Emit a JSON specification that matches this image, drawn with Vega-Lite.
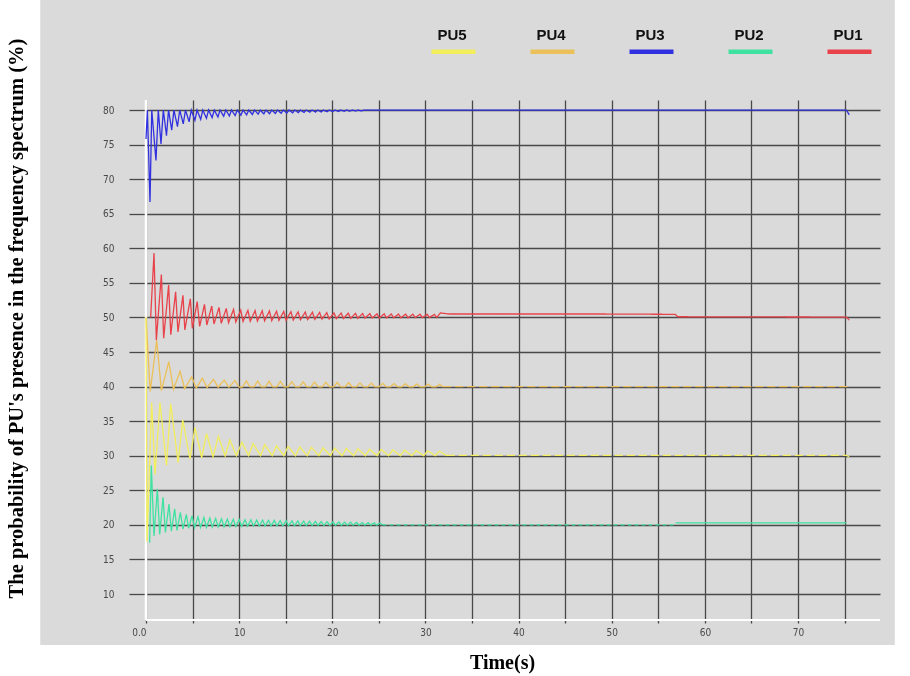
{
  "$schema": "https://vega.github.io/schema/vega-lite/v6.json",
  "width": 734,
  "height": 520,
  "autosize": {"type": "none"},
  "padding": {"left": 146, "top": 100, "right": 30, "bottom": 56},
  "background": "white",
  "config": {
    "view": {"stroke": null},
    "axisX": {
      "grid": true, "gridColor": "#555555", "gridWidth": 1.3, "domain": false,
      "ticks": true, "tickSize": 3, "tickColor": "#555555", "tickWidth": 1.3,
      "labelFont": "Liberation Sans Narrow, DejaVu Sans Condensed, sans-serif",
      "labelFontSize": 10, "labelColor": "#555555", "labelPadding": 4,
      "labelFlush": false, "labelOverlap": false
    },
    "axisY": {
      "grid": true, "gridColor": "#555555", "gridWidth": 1.3, "domain": false,
      "ticks": true, "tickSize": 17, "tickColor": "#555555", "tickWidth": 1.3,
      "labelFont": "Liberation Sans Narrow, DejaVu Sans Condensed, sans-serif",
      "labelFontSize": 10, "labelColor": "#555555", "labelPadding": 15,
      "labelFlush": false, "labelOverlap": false
    }
  },
  "layer": [
    {
      "data": {"values": [{}]},
      "mark": {"type": "rect", "fill": "#dadada", "blend": "multiply"},
      "encoding": {
        "x": {"datum": -11.35, "type": "quantitative", "axis": {"values": [0, 5, 10, 15, 20, 25, 30, 35, 40, 45, 50, 55, 60, 65, 70, 75]}},
        "x2": {"datum": 80.39},
        "y": {"datum": 95.91, "type": "quantitative", "axis": {"values": [10, 15, 20, 25, 30, 35, 40, 45, 50, 55, 60, 65, 70, 75, 80]}},
        "y2": {"datum": 2.62}
      }
    },
    {
      "data": {"values": [{}]},
      "mark": {"type": "rule", "color": "white", "strokeWidth": 2.5},
      "encoding": {"x": {"datum": 0, "type": "quantitative", "axis": {"values": [0, 5, 10, 15, 20, 25, 30, 35, 40, 45, 50, 55, 60, 65, 70, 75]}}}
    },
    {
      "data": {"values": [{}]},
      "mark": {"type": "rule", "color": "white", "strokeWidth": 2},
      "encoding": {"y": {"datum": 6.24, "type": "quantitative", "axis": {"values": [10, 15, 20, 25, 30, 35, 40, 45, 50, 55, 60, 65, 70, 75, 80]}}}
    },
    {
      "data": {"values": [
        {"s":"PU3","t":0,"v":75.8,"p":"a"},
        {"s":"PU3","t":0.15,"v":80,"p":"a"},
        {"s":"PU3","t":0.43,"v":66.7,"p":"a"},
        {"s":"PU3","t":0.62,"v":80,"p":"a"},
        {"s":"PU3","t":1.07,"v":72.7,"p":"a"},
        {"s":"PU3","t":1.32,"v":80,"p":"a"},
        {"s":"PU3","t":1.61,"v":75.1,"p":"a"},
        {"s":"PU3","t":1.86,"v":80,"p":"a"},
        {"s":"PU3","t":2.2,"v":76.3,"p":"a"},
        {"s":"PU3","t":2.42,"v":80,"p":"a"},
        {"s":"PU3","t":2.76,"v":77.1,"p":"a"},
        {"s":"PU3","t":3.0,"v":80,"p":"a"},
        {"s":"PU3","t":3.38,"v":77.6,"p":"a"},
        {"s":"PU3","t":3.62,"v":80,"p":"a"},
        {"s":"PU3","t":4.0,"v":78.0,"p":"a"},
        {"s":"PU3","t":4.24,"v":80,"p":"a"},
        {"s":"PU3","t":4.63,"v":78.3,"p":"a"},
        {"s":"PU3","t":4.86,"v":80,"p":"a"},
        {"s":"PU3","t":5.25,"v":78.5,"p":"a"},
        {"s":"PU3","t":5.48,"v":80,"p":"a"},
        {"s":"PU3","t":5.87,"v":78.65,"p":"a"},
        {"s":"PU3","t":6.1,"v":80,"p":"a"},
        {"s":"PU3","t":6.49,"v":78.8,"p":"a"},
        {"s":"PU3","t":6.72,"v":80,"p":"a"},
        {"s":"PU3","t":7.1,"v":78.9,"p":"a"},
        {"s":"PU3","t":7.33,"v":80,"p":"a"},
        {"s":"PU3","t":7.72,"v":79.0,"p":"a"},
        {"s":"PU3","t":7.95,"v":80,"p":"a"},
        {"s":"PU3","t":8.34,"v":79.1,"p":"a"},
        {"s":"PU3","t":8.57,"v":80,"p":"a"},
        {"s":"PU3","t":8.95,"v":79.15,"p":"a"},
        {"s":"PU3","t":9.18,"v":80,"p":"a"},
        {"s":"PU3","t":9.57,"v":79.2,"p":"a"},
        {"s":"PU3","t":9.8,"v":80,"p":"a"},
        {"s":"PU3","t":10.19,"v":79.25,"p":"a"},
        {"s":"PU3","t":10.42,"v":80,"p":"a"},
        {"s":"PU3","t":10.8,"v":79.3,"p":"a"},
        {"s":"PU3","t":11.03,"v":80,"p":"a"},
        {"s":"PU3","t":11.42,"v":79.35,"p":"a"},
        {"s":"PU3","t":11.65,"v":80,"p":"a"},
        {"s":"PU3","t":12.04,"v":79.4,"p":"a"},
        {"s":"PU3","t":12.27,"v":80,"p":"a"},
        {"s":"PU3","t":12.65,"v":79.43,"p":"a"},
        {"s":"PU3","t":12.88,"v":80,"p":"a"},
        {"s":"PU3","t":13.27,"v":79.46,"p":"a"},
        {"s":"PU3","t":13.5,"v":80,"p":"a"},
        {"s":"PU3","t":13.89,"v":79.5,"p":"a"},
        {"s":"PU3","t":14.12,"v":80,"p":"a"},
        {"s":"PU3","t":14.5,"v":79.53,"p":"a"},
        {"s":"PU3","t":14.73,"v":80,"p":"a"},
        {"s":"PU3","t":15.12,"v":79.56,"p":"a"},
        {"s":"PU3","t":15.35,"v":80,"p":"a"},
        {"s":"PU3","t":15.74,"v":79.59,"p":"a"},
        {"s":"PU3","t":15.97,"v":80,"p":"a"},
        {"s":"PU3","t":16.35,"v":79.62,"p":"a"},
        {"s":"PU3","t":16.58,"v":80,"p":"a"},
        {"s":"PU3","t":16.97,"v":79.65,"p":"a"},
        {"s":"PU3","t":17.2,"v":80,"p":"a"},
        {"s":"PU3","t":17.59,"v":79.68,"p":"a"},
        {"s":"PU3","t":17.82,"v":80,"p":"a"},
        {"s":"PU3","t":18.2,"v":79.7,"p":"a"},
        {"s":"PU3","t":18.43,"v":80,"p":"a"},
        {"s":"PU3","t":18.82,"v":79.73,"p":"a"},
        {"s":"PU3","t":19.05,"v":80,"p":"a"},
        {"s":"PU3","t":19.44,"v":79.76,"p":"a"},
        {"s":"PU3","t":19.67,"v":80,"p":"a"},
        {"s":"PU3","t":20.05,"v":79.78,"p":"a"},
        {"s":"PU3","t":20.28,"v":80,"p":"a"},
        {"s":"PU3","t":20.67,"v":79.8,"p":"a"},
        {"s":"PU3","t":20.9,"v":80,"p":"a"},
        {"s":"PU3","t":21.29,"v":79.82,"p":"a"},
        {"s":"PU3","t":21.52,"v":80,"p":"a"},
        {"s":"PU3","t":21.91,"v":79.84,"p":"a"},
        {"s":"PU3","t":22.14,"v":80,"p":"a"},
        {"s":"PU3","t":22.53,"v":79.86,"p":"a"},
        {"s":"PU3","t":22.76,"v":80,"p":"a"},
        {"s":"PU3","t":23.15,"v":79.88,"p":"a"},
        {"s":"PU3","t":23.38,"v":80,"p":"a"},
        {"s":"PU3","t":75.2,"v":80,"p":"a"},
        {"s":"PU3","t":75.5,"v":79.3,"p":"a"},

        {"s":"PU1","t":0.5,"v":50,"p":"a"},
        {"s":"PU1","t":0.86,"v":59.3,"p":"a"},
        {"s":"PU1","t":1.11,"v":46.7,"p":"a"},
        {"s":"PU1","t":1.65,"v":56.2,"p":"a"},
        {"s":"PU1","t":1.9,"v":47.0,"p":"a"},
        {"s":"PU1","t":2.43,"v":54.7,"p":"a"},
        {"s":"PU1","t":2.66,"v":47.5,"p":"a"},
        {"s":"PU1","t":3.18,"v":53.7,"p":"a"},
        {"s":"PU1","t":3.43,"v":47.9,"p":"a"},
        {"s":"PU1","t":3.97,"v":53.2,"p":"a"},
        {"s":"PU1","t":4.17,"v":48.2,"p":"a"},
        {"s":"PU1","t":4.76,"v":52.7,"p":"a"},
        {"s":"PU1","t":4.98,"v":48.4,"p":"a"},
        {"s":"PU1","t":5.5,"v":52.3,"p":"a"},
        {"s":"PU1","t":5.76,"v":48.7,"p":"a"},
        {"s":"PU1","t":6.28,"v":51.9,"p":"a"},
        {"s":"PU1","t":6.53,"v":48.9,"p":"a"},
        {"s":"PU1","t":7.06,"v":51.65,"p":"a"},
        {"s":"PU1","t":7.3,"v":49.05,"p":"a"},
        {"s":"PU1","t":7.84,"v":51.45,"p":"a"},
        {"s":"PU1","t":8.08,"v":49.15,"p":"a"},
        {"s":"PU1","t":8.62,"v":51.3,"p":"a"},
        {"s":"PU1","t":8.86,"v":49.25,"p":"a"},
        {"s":"PU1","t":9.4,"v":51.15,"p":"a"},
        {"s":"PU1","t":9.64,"v":49.35,"p":"a"},
        {"s":"PU1","t":10.17,"v":51.05,"p":"a"},
        {"s":"PU1","t":10.42,"v":49.42,"p":"a"},
        {"s":"PU1","t":10.94,"v":51.02,"p":"a"},
        {"s":"PU1","t":11.19,"v":49.45,"p":"a"},
        {"s":"PU1","t":11.71,"v":50.99,"p":"a"},
        {"s":"PU1","t":11.96,"v":49.48,"p":"a"},
        {"s":"PU1","t":12.48,"v":50.96,"p":"a"},
        {"s":"PU1","t":12.73,"v":49.51,"p":"a"},
        {"s":"PU1","t":13.25,"v":50.93,"p":"a"},
        {"s":"PU1","t":13.5,"v":49.54,"p":"a"},
        {"s":"PU1","t":14.02,"v":50.9,"p":"a"},
        {"s":"PU1","t":14.27,"v":49.57,"p":"a"},
        {"s":"PU1","t":14.79,"v":50.87,"p":"a"},
        {"s":"PU1","t":15.04,"v":49.6,"p":"a"},
        {"s":"PU1","t":15.56,"v":50.84,"p":"a"},
        {"s":"PU1","t":15.81,"v":49.63,"p":"a"},
        {"s":"PU1","t":16.33,"v":50.81,"p":"a"},
        {"s":"PU1","t":16.58,"v":49.66,"p":"a"},
        {"s":"PU1","t":17.1,"v":50.78,"p":"a"},
        {"s":"PU1","t":17.35,"v":49.69,"p":"a"},
        {"s":"PU1","t":17.87,"v":50.75,"p":"a"},
        {"s":"PU1","t":18.12,"v":49.72,"p":"a"},
        {"s":"PU1","t":18.64,"v":50.72,"p":"a"},
        {"s":"PU1","t":18.89,"v":49.75,"p":"a"},
        {"s":"PU1","t":19.41,"v":50.69,"p":"a"},
        {"s":"PU1","t":19.66,"v":49.78,"p":"a"},
        {"s":"PU1","t":20.18,"v":50.66,"p":"a"},
        {"s":"PU1","t":20.43,"v":49.81,"p":"a"},
        {"s":"PU1","t":20.95,"v":50.63,"p":"a"},
        {"s":"PU1","t":21.2,"v":49.84,"p":"a"},
        {"s":"PU1","t":21.72,"v":50.61,"p":"a"},
        {"s":"PU1","t":21.97,"v":49.86,"p":"a"},
        {"s":"PU1","t":22.49,"v":50.59,"p":"a"},
        {"s":"PU1","t":22.74,"v":49.88,"p":"a"},
        {"s":"PU1","t":23.26,"v":50.57,"p":"a"},
        {"s":"PU1","t":23.51,"v":49.9,"p":"a"},
        {"s":"PU1","t":24.03,"v":50.55,"p":"a"},
        {"s":"PU1","t":24.28,"v":49.91,"p":"a"},
        {"s":"PU1","t":24.8,"v":50.53,"p":"a"},
        {"s":"PU1","t":25.05,"v":49.92,"p":"a"},
        {"s":"PU1","t":25.57,"v":50.52,"p":"a"},
        {"s":"PU1","t":25.82,"v":49.93,"p":"a"},
        {"s":"PU1","t":26.34,"v":50.5,"p":"a"},
        {"s":"PU1","t":26.59,"v":49.94,"p":"a"},
        {"s":"PU1","t":27.11,"v":50.49,"p":"a"},
        {"s":"PU1","t":27.36,"v":49.95,"p":"a"},
        {"s":"PU1","t":27.88,"v":50.48,"p":"a"},
        {"s":"PU1","t":28.13,"v":49.96,"p":"a"},
        {"s":"PU1","t":28.65,"v":50.47,"p":"a"},
        {"s":"PU1","t":28.9,"v":49.97,"p":"a"},
        {"s":"PU1","t":29.42,"v":50.46,"p":"a"},
        {"s":"PU1","t":29.67,"v":49.98,"p":"a"},
        {"s":"PU1","t":30.19,"v":50.45,"p":"a"},
        {"s":"PU1","t":30.44,"v":49.99,"p":"a"},
        {"s":"PU1","t":30.96,"v":50.44,"p":"a"},
        {"s":"PU1","t":31.21,"v":50.0,"p":"a"},
        {"s":"PU1","t":31.6,"v":50.65,"p":"a"},
        {"s":"PU1","t":32.5,"v":50.5,"p":"a"},
        {"s":"PU1","t":48.5,"v":50.5,"p":"a"},
        {"s":"PU1","t":56.8,"v":50.45,"p":"a"},
        {"s":"PU1","t":57.1,"v":50.1,"p":"a"},
        {"s":"PU1","t":75.2,"v":50.05,"p":"a"},
        {"s":"PU1","t":75.5,"v":49.6,"p":"a"},

        {"s":"PU4","t":0,"v":50,"p":"a"},
        {"s":"PU4","t":0.45,"v":39.3,"p":"a"},
        {"s":"PU4","t":1.15,"v":46.7,"p":"a"},
        {"s":"PU4","t":1.65,"v":39.4,"p":"a"},
        {"s":"PU4","t":2.45,"v":43.6,"p":"a"},
        {"s":"PU4","t":2.95,"v":39.6,"p":"a"},
        {"s":"PU4","t":3.65,"v":42.2,"p":"a"},
        {"s":"PU4","t":4.15,"v":39.7,"p":"a"},
        {"s":"PU4","t":4.9,"v":41.4,"p":"a"},
        {"s":"PU4","t":5.4,"v":39.8,"p":"a"},
        {"s":"PU4","t":6.05,"v":41.2,"p":"a"},
        {"s":"PU4","t":6.55,"v":39.85,"p":"a"},
        {"s":"PU4","t":7.25,"v":41.05,"p":"a"},
        {"s":"PU4","t":7.75,"v":39.9,"p":"a"},
        {"s":"PU4","t":8.4,"v":40.95,"p":"a"},
        {"s":"PU4","t":8.9,"v":39.9,"p":"a"},
        {"s":"PU4","t":9.55,"v":40.87,"p":"a"},
        {"s":"PU4","t":10.0,"v":39.92,"p":"a"},
        {"s":"PU4","t":10.37,"v":39.95,"p":"a"},
        {"s":"PU4","t":10.77,"v":40.83,"p":"a"},
        {"s":"PU4","t":11.17,"v":39.95,"p":"a"},
        {"s":"PU4","t":11.59,"v":39.95,"p":"a"},
        {"s":"PU4","t":11.99,"v":40.8,"p":"a"},
        {"s":"PU4","t":12.39,"v":39.95,"p":"a"},
        {"s":"PU4","t":12.81,"v":39.95,"p":"a"},
        {"s":"PU4","t":13.21,"v":40.77,"p":"a"},
        {"s":"PU4","t":13.61,"v":39.95,"p":"a"},
        {"s":"PU4","t":14.03,"v":39.95,"p":"a"},
        {"s":"PU4","t":14.43,"v":40.74,"p":"a"},
        {"s":"PU4","t":14.83,"v":39.95,"p":"a"},
        {"s":"PU4","t":15.25,"v":39.95,"p":"a"},
        {"s":"PU4","t":15.65,"v":40.71,"p":"a"},
        {"s":"PU4","t":16.05,"v":39.95,"p":"a"},
        {"s":"PU4","t":16.47,"v":39.95,"p":"a"},
        {"s":"PU4","t":16.87,"v":40.68,"p":"a"},
        {"s":"PU4","t":17.27,"v":39.95,"p":"a"},
        {"s":"PU4","t":17.69,"v":39.95,"p":"a"},
        {"s":"PU4","t":18.09,"v":40.65,"p":"a"},
        {"s":"PU4","t":18.49,"v":39.95,"p":"a"},
        {"s":"PU4","t":18.91,"v":39.95,"p":"a"},
        {"s":"PU4","t":19.31,"v":40.62,"p":"a"},
        {"s":"PU4","t":19.71,"v":39.95,"p":"a"},
        {"s":"PU4","t":20.13,"v":39.95,"p":"a"},
        {"s":"PU4","t":20.53,"v":40.59,"p":"a"},
        {"s":"PU4","t":20.93,"v":39.95,"p":"a"},
        {"s":"PU4","t":21.35,"v":39.95,"p":"a"},
        {"s":"PU4","t":21.75,"v":40.56,"p":"a"},
        {"s":"PU4","t":22.15,"v":39.95,"p":"a"},
        {"s":"PU4","t":22.57,"v":39.95,"p":"a"},
        {"s":"PU4","t":22.97,"v":40.53,"p":"a"},
        {"s":"PU4","t":23.37,"v":39.95,"p":"a"},
        {"s":"PU4","t":23.79,"v":39.95,"p":"a"},
        {"s":"PU4","t":24.19,"v":40.5,"p":"a"},
        {"s":"PU4","t":24.59,"v":39.95,"p":"a"},
        {"s":"PU4","t":25.01,"v":39.95,"p":"a"},
        {"s":"PU4","t":25.41,"v":40.47,"p":"a"},
        {"s":"PU4","t":25.81,"v":39.95,"p":"a"},
        {"s":"PU4","t":26.23,"v":39.95,"p":"a"},
        {"s":"PU4","t":26.63,"v":40.44,"p":"a"},
        {"s":"PU4","t":27.03,"v":39.95,"p":"a"},
        {"s":"PU4","t":27.45,"v":39.95,"p":"a"},
        {"s":"PU4","t":27.85,"v":40.41,"p":"a"},
        {"s":"PU4","t":28.25,"v":39.95,"p":"a"},
        {"s":"PU4","t":28.67,"v":39.95,"p":"a"},
        {"s":"PU4","t":29.07,"v":40.38,"p":"a"},
        {"s":"PU4","t":29.47,"v":39.95,"p":"a"},
        {"s":"PU4","t":29.89,"v":39.95,"p":"a"},
        {"s":"PU4","t":30.29,"v":40.35,"p":"a"},
        {"s":"PU4","t":30.69,"v":39.95,"p":"a"},
        {"s":"PU4","t":31.11,"v":39.95,"p":"a"},
        {"s":"PU4","t":31.51,"v":40.32,"p":"a"},
        {"s":"PU4","t":31.91,"v":39.95,"p":"a"},
        {"s":"PU4","t":31.91,"v":40.0,"p":"b"},
        {"s":"PU4","t":75.2,"v":40.0,"p":"b"},
        {"s":"PU4","t":75.4,"v":40.0,"p":"b"},

        {"s":"PU5","t":0,"v":50,"p":"a"},
        {"s":"PU5","t":0.1,"v":17.6,"p":"a"},
        {"s":"PU5","t":0.61,"v":37.7,"p":"a"},
        {"s":"PU5","t":0.97,"v":27.3,"p":"a"},
        {"s":"PU5","t":1.5,"v":37.7,"p":"a"},
        {"s":"PU5","t":2.2,"v":28.6,"p":"a"},
        {"s":"PU5","t":2.65,"v":37.5,"p":"a"},
        {"s":"PU5","t":3.45,"v":29.0,"p":"a"},
        {"s":"PU5","t":3.94,"v":35.2,"p":"a"},
        {"s":"PU5","t":4.72,"v":29.5,"p":"a"},
        {"s":"PU5","t":5.26,"v":34.1,"p":"a"},
        {"s":"PU5","t":5.98,"v":29.7,"p":"a"},
        {"s":"PU5","t":6.5,"v":33.2,"p":"a"},
        {"s":"PU5","t":7.2,"v":29.85,"p":"a"},
        {"s":"PU5","t":7.77,"v":32.8,"p":"a"},
        {"s":"PU5","t":8.5,"v":29.95,"p":"a"},
        {"s":"PU5","t":9.0,"v":32.3,"p":"a"},
        {"s":"PU5","t":9.7,"v":30.0,"p":"a"},
        {"s":"PU5","t":10.3,"v":31.95,"p":"a"},
        {"s":"PU5","t":11.0,"v":30.0,"p":"a"},
        {"s":"PU5","t":11.5,"v":31.75,"p":"a"},
        {"s":"PU5","t":12.3,"v":30.0,"p":"a"},
        {"s":"PU5","t":12.75,"v":31.6,"p":"a"},
        {"s":"PU5","t":13.55,"v":30.0,"p":"a"},
        {"s":"PU5","t":14.0,"v":31.45,"p":"a"},
        {"s":"PU5","t":14.8,"v":30.0,"p":"a"},
        {"s":"PU5","t":15.25,"v":31.35,"p":"a"},
        {"s":"PU5","t":16.05,"v":30.0,"p":"a"},
        {"s":"PU5","t":16.5,"v":31.28,"p":"a"},
        {"s":"PU5","t":17.3,"v":30.0,"p":"a"},
        {"s":"PU5","t":17.75,"v":31.22,"p":"a"},
        {"s":"PU5","t":18.55,"v":30.0,"p":"a"},
        {"s":"PU5","t":19.0,"v":31.16,"p":"a"},
        {"s":"PU5","t":19.8,"v":30.0,"p":"a"},
        {"s":"PU5","t":20.25,"v":31.1,"p":"a"},
        {"s":"PU5","t":21.05,"v":30.0,"p":"a"},
        {"s":"PU5","t":21.5,"v":31.05,"p":"a"},
        {"s":"PU5","t":22.3,"v":30.0,"p":"a"},
        {"s":"PU5","t":22.75,"v":31.0,"p":"a"},
        {"s":"PU5","t":23.55,"v":30.0,"p":"a"},
        {"s":"PU5","t":24.0,"v":30.95,"p":"a"},
        {"s":"PU5","t":24.8,"v":30.0,"p":"a"},
        {"s":"PU5","t":25.25,"v":30.9,"p":"a"},
        {"s":"PU5","t":26.05,"v":30.0,"p":"a"},
        {"s":"PU5","t":26.5,"v":30.85,"p":"a"},
        {"s":"PU5","t":27.3,"v":30.0,"p":"a"},
        {"s":"PU5","t":27.75,"v":30.8,"p":"a"},
        {"s":"PU5","t":28.55,"v":30.0,"p":"a"},
        {"s":"PU5","t":29.0,"v":30.75,"p":"a"},
        {"s":"PU5","t":29.8,"v":30.0,"p":"a"},
        {"s":"PU5","t":30.25,"v":30.7,"p":"a"},
        {"s":"PU5","t":31.05,"v":30.0,"p":"a"},
        {"s":"PU5","t":31.5,"v":30.65,"p":"a"},
        {"s":"PU5","t":32.3,"v":30.0,"p":"a"},
        {"s":"PU5","t":32.3,"v":30.05,"p":"b"},
        {"s":"PU5","t":75.2,"v":30.05,"p":"b"},
        {"s":"PU5","t":75.5,"v":29.85,"p":"b"},

        {"s":"PU2","t":0.39,"v":17.4,"p":"a"},
        {"s":"PU2","t":0.57,"v":28.6,"p":"a"},
        {"s":"PU2","t":0.86,"v":18.4,"p":"a"},
        {"s":"PU2","t":1.22,"v":25.2,"p":"a"},
        {"s":"PU2","t":1.47,"v":18.6,"p":"a"},
        {"s":"PU2","t":1.83,"v":24.0,"p":"a"},
        {"s":"PU2","t":2.08,"v":18.9,"p":"a"},
        {"s":"PU2","t":2.47,"v":23.0,"p":"a"},
        {"s":"PU2","t":2.72,"v":19.1,"p":"a"},
        {"s":"PU2","t":3.08,"v":22.3,"p":"a"},
        {"s":"PU2","t":3.33,"v":19.2,"p":"a"},
        {"s":"PU2","t":3.69,"v":21.8,"p":"a"},
        {"s":"PU2","t":3.97,"v":19.4,"p":"a"},
        {"s":"PU2","t":4.33,"v":21.5,"p":"a"},
        {"s":"PU2","t":4.58,"v":19.5,"p":"a"},
        {"s":"PU2","t":4.94,"v":21.3,"p":"a"},
        {"s":"PU2","t":5.22,"v":19.6,"p":"a"},
        {"s":"PU2","t":5.58,"v":21.15,"p":"a"},
        {"s":"PU2","t":5.86,"v":19.62,"p":"a"},
        {"s":"PU2","t":6.22,"v":21.05,"p":"a"},
        {"s":"PU2","t":6.49,"v":19.65,"p":"a"},
        {"s":"PU2","t":6.85,"v":20.98,"p":"a"},
        {"s":"PU2","t":7.12,"v":19.68,"p":"a"},
        {"s":"PU2","t":7.48,"v":20.92,"p":"a"},
        {"s":"PU2","t":7.75,"v":19.7,"p":"a"},
        {"s":"PU2","t":8.11,"v":20.87,"p":"a"},
        {"s":"PU2","t":8.38,"v":19.72,"p":"a"},
        {"s":"PU2","t":8.74,"v":20.83,"p":"a"},
        {"s":"PU2","t":9.01,"v":19.74,"p":"a"},
        {"s":"PU2","t":9.37,"v":20.8,"p":"a"},
        {"s":"PU2","t":9.64,"v":19.76,"p":"a"},
        {"s":"PU2","t":10.0,"v":20.77,"p":"a"},
        {"s":"PU2","t":10.27,"v":19.78,"p":"a"},
        {"s":"PU2","t":10.63,"v":20.74,"p":"a"},
        {"s":"PU2","t":10.9,"v":19.8,"p":"a"},
        {"s":"PU2","t":11.26,"v":20.72,"p":"a"},
        {"s":"PU2","t":11.53,"v":19.82,"p":"a"},
        {"s":"PU2","t":11.89,"v":20.7,"p":"a"},
        {"s":"PU2","t":12.16,"v":19.83,"p":"a"},
        {"s":"PU2","t":12.52,"v":20.68,"p":"a"},
        {"s":"PU2","t":12.79,"v":19.84,"p":"a"},
        {"s":"PU2","t":13.15,"v":20.66,"p":"a"},
        {"s":"PU2","t":13.42,"v":19.85,"p":"a"},
        {"s":"PU2","t":13.78,"v":20.64,"p":"a"},
        {"s":"PU2","t":14.05,"v":19.86,"p":"a"},
        {"s":"PU2","t":14.41,"v":20.62,"p":"a"},
        {"s":"PU2","t":14.68,"v":19.87,"p":"a"},
        {"s":"PU2","t":15.04,"v":20.6,"p":"a"},
        {"s":"PU2","t":15.31,"v":19.88,"p":"a"},
        {"s":"PU2","t":15.67,"v":20.58,"p":"a"},
        {"s":"PU2","t":15.94,"v":19.89,"p":"a"},
        {"s":"PU2","t":16.3,"v":20.56,"p":"a"},
        {"s":"PU2","t":16.57,"v":19.9,"p":"a"},
        {"s":"PU2","t":16.93,"v":20.54,"p":"a"},
        {"s":"PU2","t":17.2,"v":19.9,"p":"a"},
        {"s":"PU2","t":17.56,"v":20.52,"p":"a"},
        {"s":"PU2","t":17.83,"v":19.91,"p":"a"},
        {"s":"PU2","t":18.19,"v":20.5,"p":"a"},
        {"s":"PU2","t":18.46,"v":19.92,"p":"a"},
        {"s":"PU2","t":18.82,"v":20.48,"p":"a"},
        {"s":"PU2","t":19.09,"v":19.92,"p":"a"},
        {"s":"PU2","t":19.45,"v":20.46,"p":"a"},
        {"s":"PU2","t":19.72,"v":19.93,"p":"a"},
        {"s":"PU2","t":20.08,"v":20.44,"p":"a"},
        {"s":"PU2","t":20.35,"v":19.94,"p":"a"},
        {"s":"PU2","t":20.71,"v":20.42,"p":"a"},
        {"s":"PU2","t":20.98,"v":19.94,"p":"a"},
        {"s":"PU2","t":21.34,"v":20.4,"p":"a"},
        {"s":"PU2","t":21.61,"v":19.95,"p":"a"},
        {"s":"PU2","t":21.97,"v":20.38,"p":"a"},
        {"s":"PU2","t":22.24,"v":19.95,"p":"a"},
        {"s":"PU2","t":22.6,"v":20.36,"p":"a"},
        {"s":"PU2","t":22.87,"v":19.96,"p":"a"},
        {"s":"PU2","t":23.23,"v":20.34,"p":"a"},
        {"s":"PU2","t":23.5,"v":19.96,"p":"a"},
        {"s":"PU2","t":23.86,"v":20.32,"p":"a"},
        {"s":"PU2","t":24.13,"v":19.97,"p":"a"},
        {"s":"PU2","t":24.49,"v":20.3,"p":"a"},
        {"s":"PU2","t":24.76,"v":19.97,"p":"a"},
        {"s":"PU2","t":25.12,"v":20.28,"p":"a"},
        {"s":"PU2","t":25.39,"v":19.98,"p":"a"},
        {"s":"PU2","t":25.39,"v":20.0,"p":"c"},
        {"s":"PU2","t":56.8,"v":20.0,"p":"c"},
        {"s":"PU2","t":56.85,"v":20.3,"p":"d"},
        {"s":"PU2","t":75.2,"v":20.3,"p":"d"}
      ]},
      "mark": {"type": "line", "strokeWidth": 1.3},
      "encoding": {
        "x": {
          "field": "t", "type": "quantitative",
          "scale": {"domain": [0, 78.8], "nice": false, "zero": false},
          "axis": {
            "values": [0, 5, 10, 15, 20, 25, 30, 35, 40, 45, 50, 55, 60, 65, 70, 75],
            "labelExpr": "datum.value == 0 ? '0.0' : (datum.value % 10 == 0 ? datum.label : '')",
            "labelAlign": {"condition": {"test": "datum.value == 0", "value": "right"}, "value": "center"},
            "title": "Time(s)",
            "titleFont": "Liberation Serif", "titleFontSize": 20, "titleFontWeight": "bold", "titleColor": "#000000",
            "titleX": 356, "titleY": 42, "titleAlign": "center", "titleBaseline": "middle"
          }
        },
        "y": {
          "field": "v", "type": "quantitative",
          "scale": {"domain": [6.24, 81.45], "nice": false, "zero": false},
          "axis": {
            "values": [10, 15, 20, 25, 30, 35, 40, 45, 50, 55, 60, 65, 70, 75, 80],
            "title": "The probability of PU's presence in the frequency spectrum (%)",
            "titleFont": "Liberation Serif", "titleFontSize": 20.5, "titleFontWeight": "bold", "titleColor": "#000000",
            "titleX": -130, "titleY": 218, "titleAngle": -90, "titleAlign": "center", "titleBaseline": "middle"
          }
        },
        "color": {
          "field": "s", "type": "nominal",
          "scale": {"domain": ["PU5", "PU4", "PU3", "PU2", "PU1"], "range": ["#f2ee5c", "#ecc058", "#3030e0", "#3fe2a0", "#e8424a"]},
          "legend": {
            "orient": "none", "legendX": 283, "legendY": -73, "direction": "horizontal", "title": null,
            "zindex": 1,
            "symbolType": "stroke", "symbolSize": 1936, "symbolStrokeWidth": 4.5,
            "labelFont": "Liberation Sans", "labelFontSize": 15, "labelFontWeight": "bold", "labelColor": "#111111",
            "labelAlign": "center", "labelOffset": -26, "columnPadding": 36,
            "encode": {
              "labels": {"update": {"dy": {"value": -17}}},
              "symbols": {
                "stroke": {"signal": "datum.value === 'PU5' ? '#ffff00' : datum.value === 'PU4' ? '#ff7f27' : datum.value === 'PU3' ? '#1ea0f0' : datum.value === 'PU2' ? '#1ee673' : '#e8141e'"},
                "update": {"stroke": {"signal": "datum.value === 'PU5' ? '#ffff00' : datum.value === 'PU4' ? '#ff7f27' : datum.value === 'PU3' ? '#1ea0f0' : datum.value === 'PU2' ? '#1ee673' : '#e8141e'"}}
              }
            }
          }
        },
        "strokeDash": {
          "field": "p", "type": "nominal",
          "scale": {"domain": ["a", "b", "c", "d"], "range": [[1, 0], [8, 4], [4, 3], [1, 0]]},
          "legend": null
        }
      }
    }
  ]
}
